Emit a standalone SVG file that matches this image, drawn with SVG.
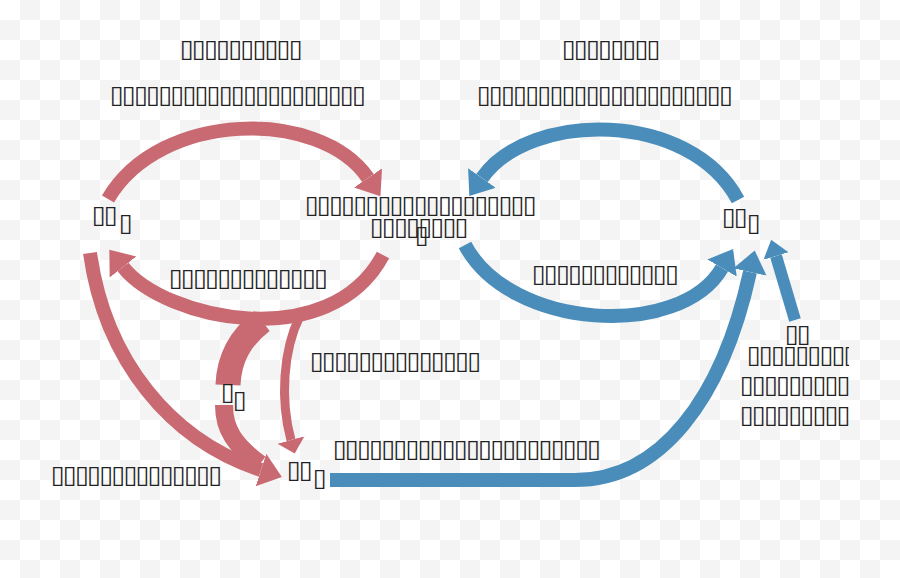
<svg xmlns="http://www.w3.org/2000/svg" width="900" height="578" viewBox="0 0 900 578">
<defs>
<pattern id="chk" width="40" height="40" patternUnits="userSpaceOnUse">
<rect width="40" height="40" fill="#ffffff"/>
<rect x="20" y="0" width="20" height="20" fill="#f4f4f4"/>
<rect x="0" y="20" width="20" height="20" fill="#f4f4f4"/>
</pattern>
<marker id="hr" markerUnits="userSpaceOnUse" markerWidth="30" markerHeight="40" refX="0" refY="17" orient="auto">
<path d="M0,0 L22,17 L0,34 z" fill="#c96a72"/>
</marker>
<marker id="hrs" markerUnits="userSpaceOnUse" markerWidth="20" markerHeight="32" refX="0" refY="14" orient="auto">
<path d="M0,0 L14,14 L0,28 z" fill="#c96a72"/>
</marker>
<marker id="hb" markerUnits="userSpaceOnUse" markerWidth="30" markerHeight="40" refX="0" refY="17" orient="auto">
<path d="M0,0 L22,17 L0,34 z" fill="#4a8dbb"/>
</marker>
<marker id="hbs" markerUnits="userSpaceOnUse" markerWidth="24" markerHeight="32" refX="0" refY="13" orient="auto">
<path d="M0,0 L17,13 L0,26 z" fill="#4a8dbb"/>
</marker>
<clipPath id="rc"><rect x="0" y="0" width="849" height="578"/></clipPath>
</defs>
<style>
.t{font-family:"DejaVu Sans",sans-serif;font-size:25px;letter-spacing:-1.65px;fill:#222}
.r{fill:none;stroke:#c96a72}
.b{fill:none;stroke:#4a8dbb}
</style>
<rect width="900" height="578" fill="url(#chk)"/>
<g id="connectors">
<path class="r" stroke-width="14" d="M108,199 C160,110 320,108 368,178" marker-end="url(#hr)"/>
<path class="r" stroke-width="14" d="M383,255 C330,355 165,320 123,267" marker-end="url(#hr)"/>
<path class="r" stroke-width="14" d="M90,253 C105,360 170,440 261,470" marker-end="url(#hr)"/>
<path class="r" stroke-width="25" d="M262,321 C240,338 229,358 228,385"/>
<path class="r" stroke-width="18" d="M224,405 C224,430 235,445 260,464"/>
<path class="r" stroke-width="9" d="M300,316 C283,350 280,400 291,440" marker-end="url(#hrs)"/>
<path class="b" stroke-width="14" d="M738,200 C690,110 530,110 482,178" marker-end="url(#hb)"/>
<path class="b" stroke-width="14" d="M465,245 C510,330 680,340 722,268" marker-end="url(#hb)"/>
<path class="b" stroke-width="14" d="M330,480 L575,480 C660,480 722,400 750,272" marker-end="url(#hb)"/>
<path class="b" stroke-width="12" d="M795,320 L776,256" marker-end="url(#hbs)"/>
</g>
<g id="label-top-left">
<text class="t" x="180" y="57">▯▯▯▯▯▯▯▯▯▯</text>
<text class="t" x="110" y="103">▯▯▯▯▯▯▯▯▯▯▯▯▯▯▯▯▯▯▯▯▯</text>
</g>
<g id="label-top-right">
<text class="t" x="562" y="57">▯▯▯▯▯▯▯▯</text>
<text class="t" x="477" y="103">▯▯▯▯▯▯▯▯▯▯▯▯▯▯▯▯▯▯▯▯▯</text>
</g>
<g id="node-left">
<text class="t" x="92" y="223">▯▯</text>
<text class="t" x="119" y="231">▯</text>
</g>
<g id="node-center">
<text class="t" x="305" y="213">▯▯▯▯▯▯▯▯▯▯▯▯▯▯▯▯▯▯▯</text>
<text class="t" x="370" y="235">▯▯▯▯▯▯▯▯</text>
<text class="t" x="415" y="243">▯</text>
</g>
<g id="node-right">
<text class="t" x="722" y="225">▯▯</text>
<text class="t" x="747" y="231">▯</text>
</g>
<g id="label-mid-left">
<text class="t" x="169" y="286">▯▯▯▯▯▯▯▯▯▯▯▯▯</text>
</g>
<g id="label-mid-right">
<text class="t" x="532" y="282">▯▯▯▯▯▯▯▯▯▯▯▯</text>
</g>
<g id="label-mid">
<text class="t" x="310" y="369">▯▯▯▯▯▯▯▯▯▯▯▯▯▯</text>
</g>
<g id="node-wedge">
<text class="t" x="221" y="400">▯</text>
<text class="t" x="233" y="408">▯</text>
</g>
<g id="label-right" clip-path="url(#rc)">
<text class="t" x="785" y="342">▯▯</text>
<text class="t" x="747" y="363">▯▯▯▯▯▯▯▯▯</text>
<text class="t" x="740" y="393">▯▯▯▯▯▯▯▯▯▯</text>
<text class="t" x="740" y="423">▯▯▯▯▯▯▯▯▯▯</text>
</g>
<g id="label-bottom-left">
<text class="t" x="51" y="483">▯▯▯▯▯▯▯▯▯▯▯▯▯▯</text>
</g>
<g id="node-bottom">
<text class="t" x="287" y="478">▯▯</text>
<text class="t" x="313" y="486">▯</text>
</g>
<g id="label-bottom">
<text class="t" x="333" y="457">▯▯▯▯▯▯▯▯▯▯▯▯▯▯▯▯▯▯▯▯▯▯</text>
</g>
</svg>
